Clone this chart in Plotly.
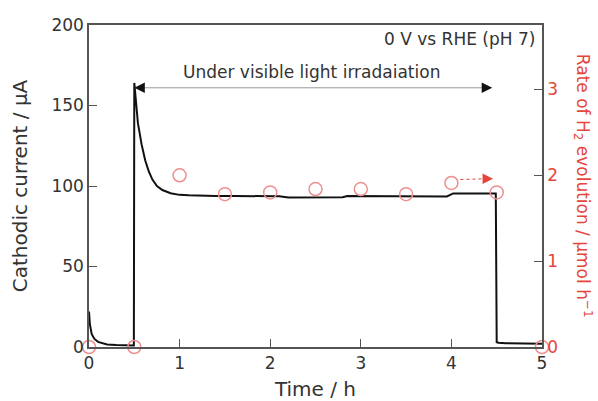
import plotly.graph_objects as go

# Photocurrent trace (time in h, cathodic current in µA)
time_h = [0, 0.01, 0.03, 0.06, 0.1, 0.15, 0.2, 0.3, 0.4, 0.495,
          0.5, 0.52, 0.54, 0.58, 0.62, 0.66, 0.70, 0.75, 0.81, 0.9, 1.0, 1.1, 1.2, 1.4,
          1.6, 1.9, 2.1, 2.2, 2.5, 2.8, 2.85, 3.0, 3.5, 3.95, 4.02, 4.3, 4.49,
          4.5, 4.52, 4.6, 4.8, 5.0]
current_uA = [22, 14, 8, 5, 3.2, 2.2, 1.6, 1.2, 1.0, 1.0,
              164, 150, 139, 126, 116, 109, 104, 100, 97.5, 95.5, 94.5, 94.2, 94, 93.8,
              93.8, 93.8, 93.6, 92.8, 92.8, 93, 93.8, 93.8, 93.5, 93.5, 95.4, 95.4, 95.4,
              3, 2.6, 2.3, 2.1, 2]

# H2 evolution rate (µmol/h)
rate_time_h = [0, 0.5, 1.0, 1.5, 2.0, 2.5, 3.0, 3.5, 4.0, 4.5, 5.0]
rate_h2 = [0, 0, 2.0, 1.78, 1.80, 1.84, 1.84, 1.78, 1.91, 1.80, 0]

x_ticks = [0, 1, 2, 3, 4, 5]
y_ticks = [0, 50, 100, 150, 200]
y2_ticks = [0, 1, 2, 3]

FONT = "DejaVu Sans, Liberation Sans, Arial, sans-serif"
FS = 17
TXT = "#333333"
AX = "#555555"
RED = "#e5463c"
MRK = "#ee8f8f"

fig = go.Figure()
fig.add_trace(go.Scatter(x=time_h, y=current_uA, mode="lines",
                         line=dict(color="#111111", width=2), showlegend=False))
fig.add_trace(go.Scatter(x=rate_time_h, y=rate_h2, yaxis="y2", mode="markers",
                         marker=dict(symbol="circle-open", size=13,
                                     line=dict(color=MRK, width=1.5), color=MRK),
                         cliponaxis=False, showlegend=False))

fig.update_layout(
    width=598, height=401,
    margin=dict(l=89, r=56, t=25, b=54, autoexpand=False),
    paper_bgcolor="white", plot_bgcolor="white",
    font=dict(family=FONT, size=FS, color=TXT),
    xaxis=dict(range=[0, 5], tickvals=x_ticks, ticks="inside", ticklen=8,
               tickcolor=AX, showline=True, linecolor=AX, linewidth=1.5,
               mirror=True, showgrid=False, zeroline=False, automargin=False,
               title=dict(text="Time / h", standoff=10)),
    yaxis=dict(range=[0, 200], tickvals=y_ticks, ticks="inside", ticklen=8,
               tickcolor=AX, showline=True, linecolor=AX, linewidth=1.5,
               mirror=True, showgrid=False, zeroline=False, automargin=False,
               title=dict(text="Cathodic current / µA", standoff=18)),
    yaxis2=dict(range=[0, 3.75], tickvals=y2_ticks, ticks="inside", ticklen=8,
                tickcolor=AX, overlaying="y", side="right", anchor="x",
                showline=True, linecolor=AX, linewidth=1.5, showgrid=False,
                zeroline=False, automargin=False, tickfont=dict(color=RED)),
)

# Irradiation double arrow
fig.add_shape(type="line", x0=0.53, x1=4.42, y0=161, y1=161, xref="x", yref="y",
              line=dict(color="#9a9a9a", width=1))
fig.add_annotation(x=0.5, y=161, ax=0.56, ay=161, axref="x", ayref="y", xref="x", yref="y",
                   text="", showarrow=True, arrowhead=2, arrowsize=1.4, arrowwidth=1.5,
                   arrowcolor="#111111")
fig.add_annotation(x=4.45, y=161, ax=4.39, ay=161, axref="x", ayref="y", xref="x", yref="y",
                   text="", showarrow=True, arrowhead=2, arrowsize=1.4, arrowwidth=1.5,
                   arrowcolor="#111111")
fig.add_annotation(x=2.46, y=171, xref="x", yref="y", text="Under visible light irradaiation",
                   showarrow=False, font=dict(size=FS, color=TXT))
fig.add_annotation(x=4.94, y=191, xref="x", yref="y", text="0 V vs RHE (pH 7)",
                   showarrow=False, xanchor="right", font=dict(size=FS, color=TXT))

# Red dashed arrow pointing to right axis
fig.add_shape(type="line", x0=4.1, x1=4.4, y0=1.95, y1=1.96, xref="x", yref="y2",
              line=dict(color=RED, width=1, dash="dot"))
fig.add_annotation(x=4.46, y=1.96, ax=4.4, ay=1.96, axref="x", ayref="y2", xref="x", yref="y2",
                   text="", showarrow=True, arrowhead=2, arrowsize=1.4, arrowwidth=1.5,
                   arrowcolor=RED)

# Right axis title (reads top to bottom)
fig.add_annotation(x=1.123, y=0.5, xref="paper", yref="paper", textangle=90,
                   text="Rate of H<sub>2</sub> evolution / µmol h<sup>−1</sup>",
                   showarrow=False, font=dict(size=FS, color=RED))

fig.write_html("out.html", config={"displayModeBar": False},
               post_script="document.body.style.margin='0px';")
